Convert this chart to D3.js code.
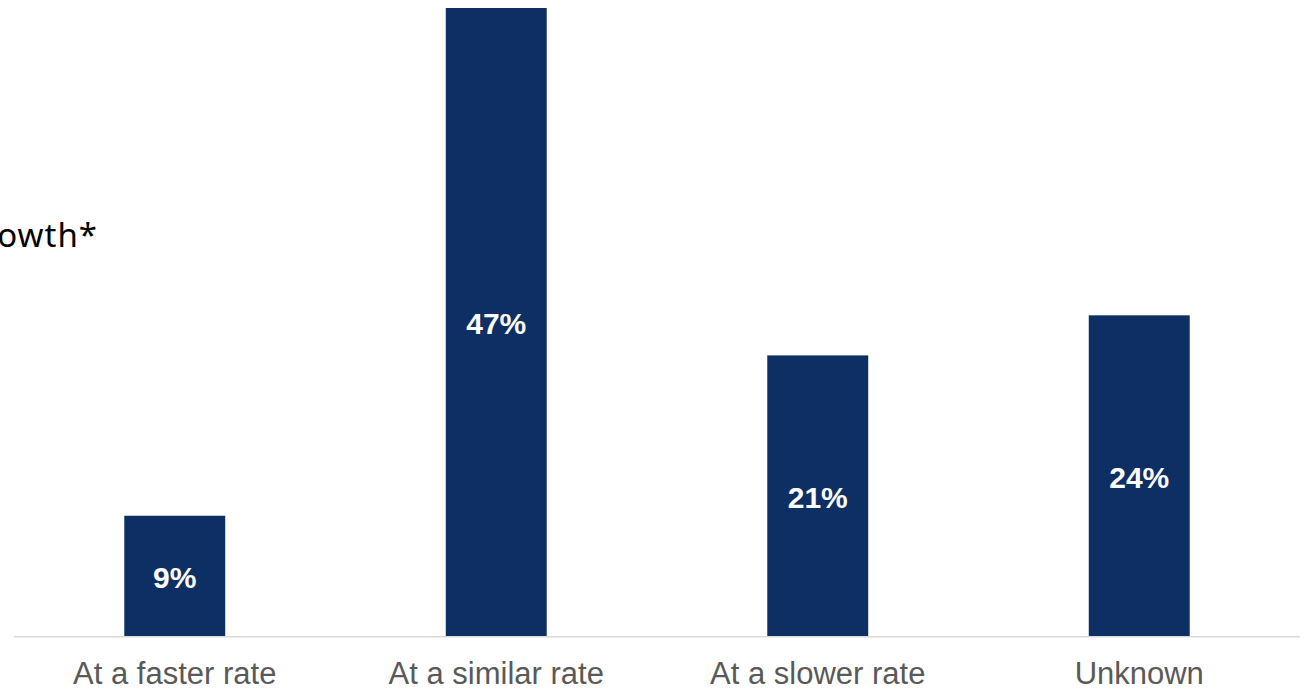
<!DOCTYPE html>
<html>
<head>
<meta charset="utf-8">
<script src="https://cdn.jsdelivr.net/npm/d3@7"></script>
<style>
  html, body { margin: 0; padding: 0; background: #ffffff; }
  svg { display: block; }
</style>
</head>
<body>
<svg id="chart" width="1309" height="690"></svg>
<script>
// Chart data
const categories = ["At a faster rate", "At a similar rate", "At a slower rate", "Unknown"];
const values = [9, 47, 21, 24];
const valueLabels = ["9%", "47%", "21%", "24%"];
const titleText = "growth*";

const W = 1309, H = 690;
const svg = d3.select("#chart");

const axisLeft = 14, axisRight = 1300;
const baseY = 636, topY = 8;

const x = d3.scaleBand()
  .domain(categories)
  .range([axisLeft, axisRight])
  .padding(0);

const barW = x.bandwidth() * 0.314;

const y = d3.scaleLinear()
  .domain([0, d3.max(values)])
  .range([baseY, topY]);

const data = categories.map((c, i) => ({ cat: c, value: values[i], label: valueLabels[i] }));

// Bars
svg.append("g")
  .selectAll("rect")
  .data(data)
  .join("rect")
  .attr("x", d => x(d.cat) + x.bandwidth() / 2 - barW / 2)
  .attr("y", d => y(d.value))
  .attr("width", barW)
  .attr("height", d => y(0) - y(d.value))
  .attr("fill", "#0e2f63");

// Value labels centred inside each bar
svg.append("g")
  .selectAll("text")
  .data(data)
  .join("text")
  .attr("x", d => x(d.cat) + x.bandwidth() / 2)
  .attr("y", d => (y(d.value) + y(0)) / 2)
  .attr("dy", "0.4em")
  .attr("text-anchor", "middle")
  .attr("font-family", "'Liberation Sans', Arial, sans-serif")
  .attr("font-weight", "bold")
  .attr("font-size", 30)
  .attr("fill", "#ffffff")
  .text(d => d.label);

// Baseline axis with category labels
const xAxis = d3.axisBottom(x).tickSize(0).tickPadding(0);
const gAxis = svg.append("g")
  .attr("transform", `translate(0,${baseY})`)
  .call(xAxis);
gAxis.select(".domain")
  .attr("stroke", "#d9d9d9")
  .attr("stroke-width", 1.5)
  .attr("d", `M${axisLeft},0.75H${axisRight}`);
gAxis.selectAll(".tick text")
  .attr("y", 48)
  .attr("dy", 0)
  .attr("font-family", "'Liberation Sans', Arial, sans-serif")
  .attr("font-size", 31)
  .attr("fill", "#595959");

// Title fragment running in from the left edge
svg.append("text")
  .attr("x", 98)
  .attr("y", 247)
  .attr("text-anchor", "end")
  .attr("font-family", "'Noto Sans', 'Open Sans', sans-serif")
  .attr("font-size", 33)
  .attr("letter-spacing", 1)
  .attr("fill", "#000000")
  .text(titleText);
</script>
</body>
</html>
